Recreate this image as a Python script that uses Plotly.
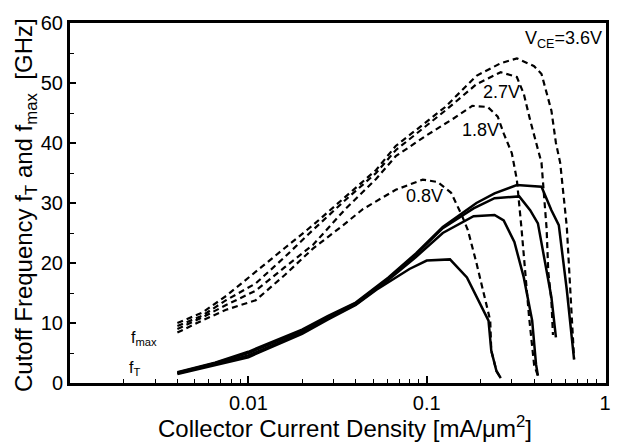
import plotly.graph_objects as go
import numpy as np

# ---- data ----
# f_max (dashed) curves
fmax_36_x = [0.004, 0.0055, 0.0075, 0.011, 0.016, 0.023, 0.035, 0.052, 0.067, 0.09, 0.127, 0.19, 0.26, 0.32, 0.40, 0.44, 0.50, 0.53, 0.56, 0.61, 0.64, 0.67]
fmax_36_y = [10.0, 11.7, 14.5, 18.6, 22.5, 26.3, 31.0, 35.5, 39.5, 42.5, 46.0, 51.2, 53.3, 54.1, 52.8, 51.5, 45.4, 40.0, 36.7, 26.0, 15.0, 4.0]

fmax_27_x = [0.004, 0.0055, 0.0075, 0.011, 0.016, 0.023, 0.035, 0.052, 0.067, 0.09, 0.127, 0.19, 0.26, 0.32, 0.35, 0.38, 0.41, 0.44, 0.47, 0.48, 0.50, 0.51]
fmax_27_y = [9.5, 11.2, 13.8, 16.6, 21.0, 25.5, 30.5, 35.0, 38.8, 41.8, 45.4, 49.8, 51.8, 51.0, 48.2, 43.8, 40.0, 36.7, 25.7, 18.6, 13.7, 8.0]

fmax_18_x = [0.004, 0.0055, 0.0075, 0.011, 0.016, 0.023, 0.035, 0.052, 0.067, 0.10, 0.14, 0.18, 0.22, 0.25, 0.27, 0.30, 0.32, 0.34, 0.375, 0.40, 0.42]
fmax_18_y = [9.0, 10.9, 13.0, 15.4, 19.3, 23.0, 29.0, 34.0, 37.8, 41.3, 44.0, 46.2, 46.0, 44.4, 41.6, 38.3, 33.9, 25.7, 10.9, 3.0, 1.2]

fmax_08_x = [0.004, 0.0055, 0.0075, 0.011, 0.016, 0.023, 0.033, 0.044, 0.067, 0.095, 0.115, 0.137, 0.157, 0.17, 0.19, 0.215, 0.227, 0.23, 0.246, 0.26]
fmax_08_y = [8.4, 10.4, 12.2, 13.8, 18.0, 22.4, 26.0, 29.0, 32.2, 33.9, 33.5, 31.7, 28.0, 25.5, 20.0, 13.2, 10.4, 5.4, 2.0, 0.8]

# f_T (solid) curves
ft_36_x = [0.004, 0.0065, 0.01, 0.02, 0.028, 0.04, 0.061, 0.087, 0.123, 0.19, 0.24, 0.32, 0.44, 0.50, 0.55, 0.61, 0.67]
ft_36_y = [1.8, 3.4, 5.2, 8.9, 11.2, 13.4, 17.6, 21.6, 26.0, 30.0, 31.6, 33.0, 32.7, 28.8, 26.3, 15.5, 3.9]

ft_27_x = [0.004, 0.0065, 0.01, 0.02, 0.028, 0.04, 0.061, 0.087, 0.123, 0.183, 0.24, 0.33, 0.38, 0.42, 0.50, 0.53]
ft_27_y = [1.7, 3.3, 5.0, 8.7, 11.0, 13.3, 17.4, 21.4, 25.8, 29.1, 30.8, 31.1, 28.8, 26.6, 14.3, 7.6]

ft_18_x = [0.004, 0.0065, 0.01, 0.02, 0.028, 0.04, 0.061, 0.087, 0.123, 0.183, 0.24, 0.27, 0.31, 0.35, 0.39, 0.41, 0.42]
ft_18_y = [1.6, 3.1, 4.6, 8.4, 10.8, 13.1, 17.2, 21.0, 25.0, 27.8, 28.0, 27.1, 23.5, 17.6, 10.4, 3.1, 1.2]

ft_08_x = [0.004, 0.0065, 0.01, 0.02, 0.028, 0.04, 0.052, 0.08, 0.10, 0.135, 0.168, 0.222, 0.23, 0.246, 0.26]
ft_08_y = [1.5, 3.0, 4.3, 8.2, 10.6, 13.0, 15.5, 19.0, 20.4, 20.6, 17.6, 10.4, 5.4, 2.0, 0.8]

x_tick_vals = [0.01, 0.1, 1]
x_tick_text = ["0.01", "0.1", "1"]
y_tick_vals = [0, 10, 20, 30, 40, 50, 60]

x_title = "Collector Current Density [mA/\u03bcm<sup>2</sup>]"
y_title = "Cutoff Frequency f<sub>T</sub> and f<sub>max</sub>  [GHz]"

labels = ["V<sub>CE</sub>=3.6V", "2.7V", "1.8V", "0.8V", "f<sub>max</sub>", "f<sub>T</sub>"]
label_x = [0.585, 0.262, 0.200, 0.097, 0.0026, 0.0023]
label_y = [57.3, 48.5, 42.1, 31.2, 7.4, 2.5]

# ---- figure ----
FONT = "Liberation Sans, Arial, Helvetica, sans-serif"
fig = go.Figure()

for xs, ys in [(fmax_36_x, fmax_36_y), (fmax_27_x, fmax_27_y), (fmax_18_x, fmax_18_y), (fmax_08_x, fmax_08_y)]:
    fig.add_trace(go.Scatter(x=xs, y=ys, mode="lines",
                             line=dict(color="black", width=2.2, dash="6px,4px"),
                             showlegend=False))
for xs, ys in [(ft_36_x, ft_36_y), (ft_27_x, ft_27_y), (ft_18_x, ft_18_y), (ft_08_x, ft_08_y)]:
    fig.add_trace(go.Scatter(x=xs, y=ys, mode="lines",
                             line=dict(color="black", width=2.5),
                             showlegend=False))

for i, (t, lx, ly) in enumerate(zip(labels, label_x, label_y)):
    size = 16 if i >= 4 else 18
    fig.add_annotation(x=np.log10(lx), y=ly, xref="x", yref="y", text=t,
                       showarrow=False, font=dict(size=size, color="black", family=FONT))

# axis titles as paper-anchored text for precise placement
fig.add_annotation(x=0.513, y=-0.079, xref="paper", yref="paper", text=x_title,
                   showarrow=False, xanchor="center", yanchor="top", borderpad=0,
                   font=dict(size=24, color="black", family=FONT))
fig.add_annotation(x=-0.083, y=0.493, xref="paper", yref="paper", text=y_title,
                   showarrow=False, xanchor="center", yanchor="middle", textangle=-90,
                   font=dict(size=24, color="black", family=FONT))

minor_x = [m * 10.0 ** e for e in (-3, -2, -1) for m in range(2, 10)]

fig.update_xaxes(type="log", range=[-3, 0.005],
                 tickvals=x_tick_vals, ticktext=x_tick_text,
                 ticks="inside", ticklen=7, tickwidth=1.5, tickcolor="black",
                 minor=dict(tickvals=minor_x, ticks="inside", ticklen=4, tickwidth=1.2, tickcolor="black", showgrid=False),
                 showline=True, linecolor="black", linewidth=3, mirror=True,
                 showgrid=False, zeroline=False,
                 tickfont=dict(size=20, color="black", family=FONT))
fig.update_yaxes(range=[0, 60], tickvals=y_tick_vals,
                 ticks="inside", ticklen=6, tickwidth=1.5, tickcolor="black",
                 minor=dict(dtick=5, ticks="inside", ticklen=4, tickwidth=1.2, tickcolor="black", showgrid=False),
                 showline=True, linecolor="black", linewidth=3, mirror=True,
                 showgrid=False, zeroline=False,
                 tickfont=dict(size=20, color="black", family=FONT))

fig.update_layout(width=623, height=444, margin=dict(l=70, r=13, t=18, b=61),
                  paper_bgcolor="white", plot_bgcolor="white",
                  font=dict(family=FONT, color="black"))

fig.write_html("out.html")
